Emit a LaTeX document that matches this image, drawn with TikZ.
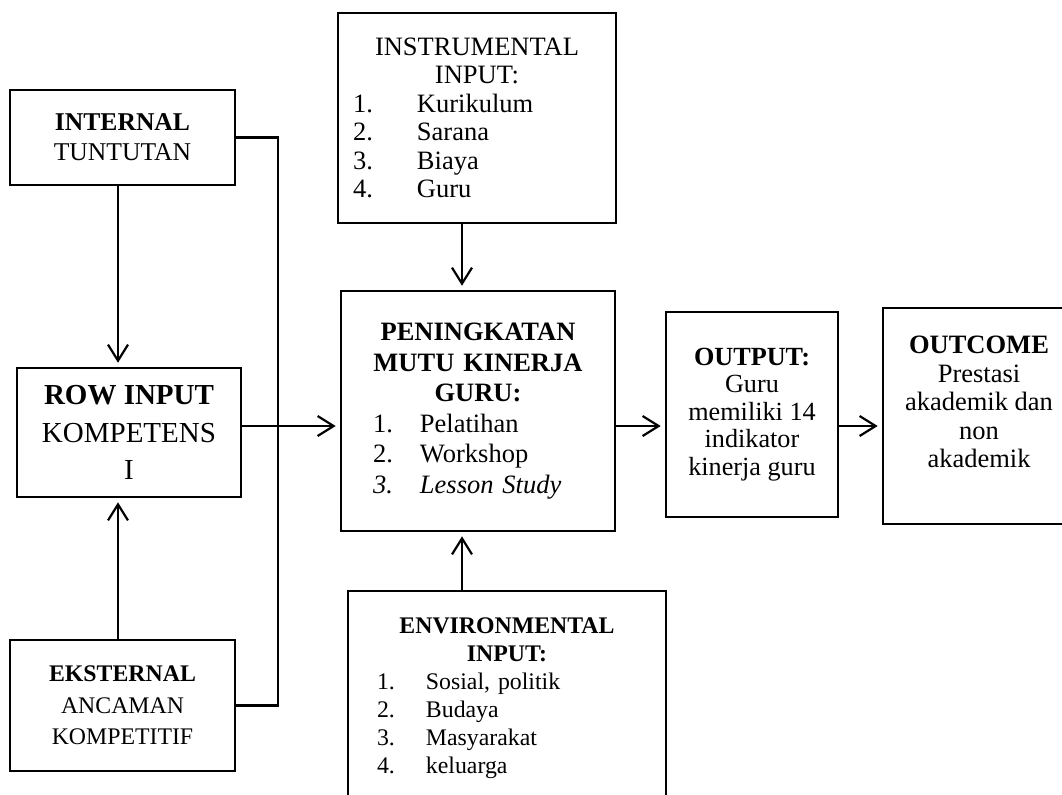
\documentclass[tikz,border=0pt]{standalone}
\usepackage{fontspec}
\setmainfont{Liberation Serif}
\usetikzlibrary{arrows.meta}

\tikzset{
  box/.style={draw, line width=1.3pt, inner sep=0pt, align=center},
  listbox/.style={draw, line width=1.3pt, inner sep=0pt,
    execute at begin node={\setlength{\parindent}{0pt}}},
  link/.style={line width=1.1pt},
  arr/.style={link, -{Straight Barb[length=8pt,width=10pt]}, shorten >=2pt},
}
\newcommand{\itemno}[2]{\makebox[#1][l]{#2}}

\begin{document}
\begin{tikzpicture}[x=0.5pt,y=-0.5pt]
\useasboundingbox (0,0) rectangle (1062,794);
\clip (0,0) rectangle (1062,794);

% left column
\node[box, minimum width=112.5pt, minimum height=47.5pt,
  font=\fontsize{12.8}{15}\selectfont] (internal) at (122.5,137.5)
  {\textbf{INTERNAL}\\TUNTUTAN};
\node[box, minimum width=112pt, minimum height=64.5pt,
  font=\fontsize{14.5}{18.75}\selectfont] (rowin) at (129,432.5)
  {\textbf{ROW INPUT}\\KOMPETENS\\I};
\node[box, minimum width=112.5pt, minimum height=65.5pt,
  font=\fontsize{11.9}{15.75}\selectfont] (eksternal) at (122.5,705.5)
  {\textbf{EKSTERNAL}\\ANCAMAN\\KOMPETITIF};

% middle column
\node[listbox, text width=139pt, minimum height=105pt,
  font=\fontsize{13.25}{14.25}\selectfont] (instr) at (477,118)
  {{\centering INSTRUMENTAL\\INPUT:\par}
   \hspace*{7.5pt}\itemno{32pt}{1.}Kurikulum\\
   \hspace*{7.5pt}\itemno{32pt}{2.}Sarana\\
   \hspace*{7.5pt}\itemno{32pt}{3.}Biaya\\
   \hspace*{7.5pt}\itemno{32pt}{4.}Guru\par};
\node[listbox, text width=137pt, minimum height=120pt,
  font=\fontsize{13.25}{15.25}\selectfont] (pening) at (478,411)
  {{\centering\bfseries PENINGKATAN\\MUTU KINERJA\\GURU:\par}
   \hspace*{16pt}\itemno{23.5pt}{1.}Pelatihan\\
   \hspace*{16pt}\itemno{23.5pt}{2.}Workshop\\
   \hspace*{16pt}\itemno{23.5pt}{\textit{3.}}\textit{Lesson Study}\par};
\node[listbox, text width=159pt, minimum height=107pt,
  font=\fontsize{11.9}{14}\selectfont] (env) at (507,698)
  {{\centering\bfseries ENVIRONMENTAL\\INPUT:\par}
   \hspace*{14.5pt}\itemno{24.5pt}{1.}Sosial, politik\\
   \hspace*{14.5pt}\itemno{24.5pt}{2.}Budaya\\
   \hspace*{14.5pt}\itemno{24.5pt}{3.}Masyarakat\\
   \hspace*{14.5pt}\itemno{24.5pt}{4.}keluarga\par};

% right column
\node[box, minimum width=86pt, minimum height=102.5pt,
  font=\fontsize{13.1}{13.75}\selectfont] (output) at (752,414.5)
  {\textbf{OUTPUT:}\\Guru\\memiliki 14\\indikator\\kinerja guru};
\node[box, minimum width=96pt, minimum height=108pt,
  font=\fontsize{13.25}{14.25}\selectfont] (outcome) at (979,416)
  {\textbf{OUTCOME}\\Prestasi\\akademik dan\\non\\akademik\\\mbox{}};

\coordinate (rail) at (278,0);
\coordinate (leftcol) at (118,0);
\coordinate (midcol) at (462,0);
\coordinate (midrow) at (0,426);

\draw[link] (internal.east) -- (internal.east -| rail)
  -- (eksternal.east -| rail) -- (eksternal.east);
\draw[arr] (internal.south -| leftcol) -- (rowin.north -| leftcol);
\draw[arr] (eksternal.north -| leftcol) -- (rowin.south -| leftcol);
\draw[arr] (rowin.east |- midrow) -- (pening.west |- midrow);
\draw[arr] (instr.south -| midcol) -- (pening.north -| midcol);
\draw[arr] (env.north -| midcol) -- (pening.south -| midcol);
\draw[arr] (pening.east |- midrow) -- (output.west |- midrow);
\draw[arr] (output.east |- midrow) -- (outcome.west |- midrow);
\end{tikzpicture}
\end{document}
